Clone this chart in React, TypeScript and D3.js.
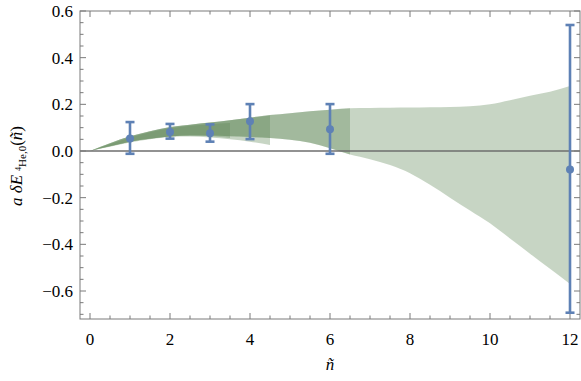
import * as d3 from 'd3';
import { useEffect, useRef } from 'react';

// lattice points with error bars
const nPts = [1, 2, 3, 4, 6, 12];
const vals = [0.054, 0.081, 0.076, 0.127, 0.093, -0.079];
const errLo = [-0.012, 0.053, 0.04, 0.051, -0.012, -0.693];
const errHi = [0.124, 0.116, 0.114, 0.201, 0.201, 0.54];

// fit bands, each runs from 0 up to its own end
const bandAx = [0, 0.5, 1, 1.5, 2, 2.5, 3, 3.5];
const bandAHi = [0, 0.03, 0.058, 0.08, 0.097, 0.108, 0.115, 0.12];
const bandALo = [0, 0.02, 0.04, 0.052, 0.062, 0.066, 0.063, 0.056];

const bandBx = [0, 0.5, 1, 1.5, 2, 2.5, 3, 3.5, 4, 4.5];
const bandBHi = [0, 0.033, 0.063, 0.085, 0.102, 0.113, 0.122, 0.132, 0.142, 0.152];
const bandBLo = [0, 0.018, 0.036, 0.05, 0.06, 0.062, 0.058, 0.05, 0.04, 0.026];

const bandCx = [0, 0.5, 1, 1.5, 2, 2.5, 3, 3.5, 4, 4.5, 5, 5.5, 6, 6.5];
const bandCHi = [0, 0.033, 0.063, 0.085, 0.103, 0.113, 0.122, 0.132, 0.143, 0.154, 0.162, 0.17, 0.177, 0.183];
const bandCLo = [0, 0.02, 0.04, 0.053, 0.062, 0.066, 0.066, 0.063, 0.06, 0.056, 0.048, 0.035, 0.012, -0.015];

const bandDx = [0, 0.5, 1, 1.5, 2, 2.5, 3, 3.5, 4, 4.5, 5, 5.5, 6, 6.5, 7, 7.5, 8, 8.5, 9, 9.5, 10, 10.5, 11, 11.5, 12];
const bandDHi = [0, 0.033, 0.063, 0.085, 0.103, 0.113, 0.122, 0.132, 0.143, 0.154, 0.162, 0.17, 0.177, 0.183, 0.184, 0.185, 0.186, 0.187, 0.189, 0.192, 0.2, 0.218, 0.237, 0.254, 0.279];
const bandDLo = [0, 0.02, 0.04, 0.053, 0.062, 0.066, 0.066, 0.063, 0.06, 0.056, 0.048, 0.035, 0.012, -0.015, -0.035, -0.06, -0.095, -0.145, -0.2, -0.255, -0.31, -0.375, -0.44, -0.505, -0.57];

const xTicks = [0, 2, 4, 6, 8, 10, 12];
const yTicks = [-0.6, -0.4, -0.2, 0.0, 0.2, 0.4, 0.6];

const App = () => {
    const svgRef = useRef<SVGSVGElement>(null);

    useEffect(() => {
        const width = 581;
        const height = 381;
        const svg = d3.select(svgRef.current);
        svg.selectAll('*').remove();
        svg.attr('width', width).attr('height', height);

        const x = d3.scaleLinear().domain([-0.25, 12.25]).range([80, 580]);
        const y = d3.scaleLinear().domain([-0.72, 0.6]).range([319, 11]);
        const font = 'Liberation Serif, DejaVu Serif, serif';
        const frameCol = '#7a7a7a';
        const blue = 'rgb(94,129,181)';

        const bands = [
            [bandDx, bandDHi, bandDLo],
            [bandCx, bandCHi, bandCLo],
            [bandBx, bandBHi, bandBLo],
            [bandAx, bandAHi, bandALo],
        ];
        const area = d3
            .area<{ px: number; hi: number; lo: number }>()
            .x((d) => d.px)
            .y0((d) => d.lo)
            .y1((d) => d.hi)
            .curve(d3.curveMonotoneX);

        bands.forEach(([bx, hi, lo]) => {
            const pts = bx.map((v, i) => ({ px: x(v), hi: y(hi[i]), lo: y(lo[i]) }));
            svg.append('path')
                .attr('d', area(pts))
                .attr('fill', 'rgb(95,135,85)')
                .attr('fill-opacity', 0.35);
        });

        // zero line
        svg.append('line')
            .attr('x1', 80)
            .attr('x2', 580)
            .attr('y1', y(0))
            .attr('y2', y(0))
            .attr('stroke', '#6e6e6e')
            .attr('stroke-width', 1.3);

        // frame
        svg.append('rect')
            .attr('x', 80)
            .attr('y', 11)
            .attr('width', 500)
            .attr('height', 308)
            .attr('fill', 'none')
            .attr('stroke', frameCol)
            .attr('stroke-width', 1);

        // ticks on all four sides
        const g = svg.append('g').attr('stroke', frameCol).attr('stroke-width', 1);
        for (let i = 0; i <= 24; i++) {
            const v = i * 0.5;
            const major = i % 4 === 0;
            const len = major ? 6 : 3.5;
            const px = x(v);
            g.append('line').attr('x1', px).attr('x2', px).attr('y1', 319).attr('y2', 319 - len);
            g.append('line').attr('x1', px).attr('x2', px).attr('y1', 11).attr('y2', 11 + len);
        }
        for (let i = -14; i <= 12; i++) {
            const v = i * 0.05;
            const major = i % 4 === 0;
            const len = major ? 6 : 3.5;
            const py = y(v);
            g.append('line').attr('x1', 80).attr('x2', 80 + len).attr('y1', py).attr('y2', py);
            g.append('line').attr('x1', 580).attr('x2', 580 - len).attr('y1', py).attr('y2', py);
        }

        svg.append('g')
            .selectAll('text')
            .data(xTicks)
            .enter()
            .append('text')
            .attr('x', (d) => x(d))
            .attr('y', 345)
            .attr('text-anchor', 'middle')
            .attr('font-family', font)
            .attr('font-size', 17)
            .text((d) => String(d));

        svg.append('g')
            .selectAll('text')
            .data(yTicks)
            .enter()
            .append('text')
            .attr('x', 73)
            .attr('y', (d) => y(d) + 6)
            .attr('text-anchor', 'end')
            .attr('font-family', font)
            .attr('font-size', 17)
            .text((d) => d3.format('.1f')(d).replace('-', '\u2212'));

        // error bars
        const eb = svg.append('g').attr('stroke', blue).attr('stroke-width', 2.6);
        nPts.forEach((n, i) => {
            const px = x(n);
            eb.append('line').attr('x1', px).attr('x2', px).attr('y1', y(errLo[i])).attr('y2', y(errHi[i]));
            [errLo[i], errHi[i]].forEach((e) => {
                eb.append('line')
                    .attr('x1', px - 4.5)
                    .attr('x2', px + 4.5)
                    .attr('y1', y(e))
                    .attr('y2', y(e));
            });
        });
        svg.append('g')
            .selectAll('circle')
            .data(nPts)
            .enter()
            .append('circle')
            .attr('cx', (d) => x(d))
            .attr('cy', (d, i) => y(vals[i]))
            .attr('r', 4)
            .attr('fill', blue);

        // axis labels
        svg.append('text')
            .attr('x', x(6))
            .attr('y', 370)
            .attr('text-anchor', 'middle')
            .attr('font-family', font)
            .attr('font-size', 17)
            .attr('font-style', 'italic')
            .text('\u00f1');

        const yl = svg
            .append('text')
            .attr('transform', 'translate(22,166) rotate(-90)')
            .attr('text-anchor', 'middle')
            .attr('font-family', font)
            .attr('font-size', 17);
        yl.append('tspan').attr('font-style', 'italic').text('a \u03b4E');
        yl.append('tspan').attr('font-size', 8).attr('dx', 4).attr('dy', -1).text('4');
        yl.append('tspan').attr('font-size', 11).attr('dy', 5).text('He,0');
        yl.append('tspan').attr('dy', -4).text('(');
        yl.append('tspan').attr('font-style', 'italic').text('\u00f1');
        yl.append('tspan').text(')');
    }, []);

    return <svg ref={svgRef} style={{ position: 'absolute', left: 0, top: 0 }} />;
};

export default App;
